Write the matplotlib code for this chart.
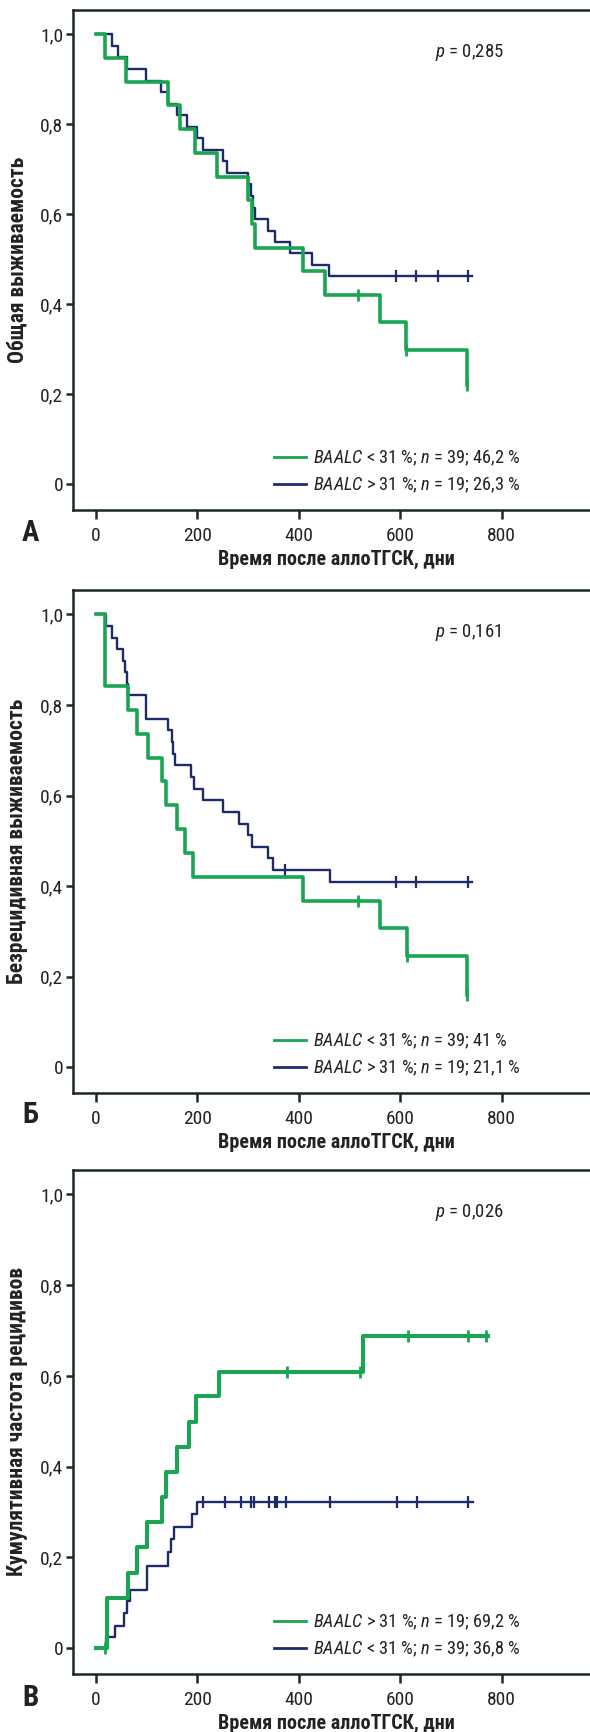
import numpy as np
import matplotlib
matplotlib.use("Agg")
import matplotlib.pyplot as plt
from matplotlib import font_manager

# condensed face if one is installed, otherwise Roboto
names = {f.name for f in font_manager.fontManager.ttflist}
cond = [n for n in ['Roboto Condensed', 'Liberation Sans Narrow', 'Open Sans Condensed'] if n in names]
base = cond[0] if cond else 'Roboto'
plt.rcParams['font.family'] = [base, 'DejaVu Sans']
plt.rcParams['mathtext.fontset'] = 'custom'
plt.rcParams['mathtext.it'] = base + ':italic'
plt.rcParams['mathtext.rm'] = base
shrink = 1.0 if cond else 0.82

GREEN = '#19a552'
NAVY = '#1f2a6b'
SPINE = '#1c2828'
TXT = '#222222'

# --- panel A: overall survival
a_green_t = [0, 18, 60, 142, 166, 196, 238, 301, 307, 314, 409, 452, 560, 611, 731]
a_green_s = [1.0, .947, .894, .842, .789, .737, .684, .632, .579, .526, .474, .421, .361, .298, .221]
a_green_ct = [517, 611, 731]
a_green_cs = [.421, .298, .221]
a_navy_t = [0, 31, 43, 61, 99, 128, 143, 160, 179, 199, 212, 250, 258, 301, 305, 309, 313,
            340, 353, 383, 426, 460, 741]
a_navy_s = [1.0, .974, .949, .923, .897, .872, .846, .821, .795, .769, .744, .718, .692, .667,
            .641, .615, .590, .564, .538, .513, .487, .462, .462]
a_navy_ct = [592, 632, 674, 734]
a_navy_cs = [.462, .462, .462, .462]

# --- panel B: relapse-free survival
b_green_t = [0, 18, 63, 81, 102, 131, 138, 160, 176, 192, 408, 560, 613, 731]
b_green_s = [1.0, .842, .789, .737, .684, .632, .579, .526, .474, .421, .368, .307, .245, .16]
b_green_ct = [517, 613, 731]
b_green_cs = [.368, .245, .16]
b_navy_t = [0, 20, 32, 41, 54, 58, 61, 64, 98, 143, 150, 153, 156, 188, 194, 211, 250, 283,
            301, 307, 340, 350, 462, 741]
b_navy_s = [1.0, .974, .949, .923, .897, .872, .846, .821, .769, .744, .718, .692, .667, .641,
            .615, .590, .564, .538, .513, .487, .462, .436, .410, .410]
b_navy_ct = [373, 592, 632, 734]
b_navy_cs = [.436, .41, .41, .41]

# --- panel C: cumulative relapse incidence
c_green_t = [0, 22, 64, 81, 100, 130, 138, 160, 183, 198, 242, 527, 774]
c_green_s = [0, .110, .166, .222, .277, .334, .389, .444, .499, .556, .609, .688, .688]
c_green_ct = [18, 376, 521, 616, 734, 770]
c_green_cs = [0, .609, .609, .688, .688, .688]
c_navy_t = [0, 20, 38, 56, 61, 68, 100, 143, 148, 155, 189, 199, 744]
c_navy_s = [0, .024, .049, .077, .103, .128, .18, .213, .240, .268, .295, .323, .323]
c_navy_ct = [212, 254, 286, 305, 312, 342, 353, 357, 375, 462, 593, 634, 734]
c_navy_cs = [.323] * 13

ylabels = ['Общая выживаемость', 'Безрецидивная выживаемость', 'Кумулятивная частота рецидивов']
pvals = ['0,285', '0,161', '0,026']
letters = ['А', 'Б', 'В']
leg_green = [r'$\mathit{BAALC}$ < 31 %; $\mathit{n}$ = 39; 46,2 %',
             r'$\mathit{BAALC}$ < 31 %; $\mathit{n}$ = 39; 41 %',
             r'$\mathit{BAALC}$ > 31 %; $\mathit{n}$ = 19; 69,2 %']
leg_navy = [r'$\mathit{BAALC}$ > 31 %; $\mathit{n}$ = 19; 26,3 %',
            r'$\mathit{BAALC}$ > 31 %; $\mathit{n}$ = 19; 21,1 %',
            r'$\mathit{BAALC}$ < 31 %; $\mathit{n}$ = 39; 36,8 %']
xticks = [0, 200, 400, 600, 800]
yticks = [0, 0.2, 0.4, 0.6, 0.8, 1.0]
ytick_labels = ['0', '0,2', '0,4', '0,6', '0,8', '1,0']

panels = [
    (a_green_t, a_green_s, a_green_ct, a_green_cs, a_navy_t, a_navy_s, a_navy_ct, a_navy_cs),
    (b_green_t, b_green_s, b_green_ct, b_green_cs, b_navy_t, b_navy_s, b_navy_ct, b_navy_cs),
    (c_green_t, c_green_s, c_green_ct, c_green_cs, c_navy_t, c_navy_s, c_navy_ct, c_navy_cs),
]

W, H = 590, 1732
fig = plt.figure(figsize=(W / 100, H / 100), dpi=100)
# axes boxes in pixels: (top, bottom)
boxes = [(10, 510), (590, 1093), (1170, 1674)]
letter_y = [533, 1115, 1698]
left_px, right_px = 73, 600

for i, (gt, gs, gct, gcs, nt, ns, nct, ncs) in enumerate(panels):
    top, bot = boxes[i]
    ax = fig.add_axes([left_px / W, 1 - bot / H, (right_px - left_px) / W, (bot - top) / H])
    gw = 2.9 if i == 2 else 2.6
    ax.step(nt, ns, where='post', color=NAVY, lw=1.7, zorder=3)
    ax.step(gt, gs, where='post', color=GREEN, lw=gw, zorder=4)
    ax.plot(nct, ncs, ls='none', marker='|', ms=8, mew=1.6, color=NAVY, zorder=3)
    ax.plot(gct, gcs, ls='none', marker='|', ms=8, mew=2.0, color=GREEN, zorder=4)

    ax.set_xlim(-45, 994)
    ax.set_ylim(-0.057, 1.054)
    ax.set_xticks(xticks)
    ax.set_xticklabels([str(v) for v in xticks])
    ax.set_yticks(yticks)
    ax.set_yticklabels(ytick_labels)
    ax.tick_params(axis='x', length=6.5, width=1.8, color=SPINE, pad=6, labelsize=14, labelcolor=TXT)
    ax.tick_params(axis='y', length=5, width=1.8, color=SPINE, pad=2, labelsize=14, labelcolor=TXT)
    for s in ['top', 'left', 'bottom']:
        ax.spines[s].set_color(SPINE)
        ax.spines[s].set_linewidth(1.8)
    ax.spines['right'].set_visible(False)

    ax.set_xlabel('Время после аллоТГСК, дни', fontsize=14.5, fontweight='bold', color=TXT, labelpad=3.5)
    ax.set_ylabel(ylabels[i], fontsize=15.5, fontweight='bold', color=TXT)
    ax.yaxis.set_label_coords(-0.085, 0.5)

    ax.text(668, 0.96, r'$\mathit{p}$ = ' + pvals[i], fontsize=13.5 * shrink, color=TXT,
            ha='left', va='center')

    hg, = ax.plot([], [], color=GREEN, lw=2.0)
    hn, = ax.plot([], [], color=NAVY, lw=2.0)
    fs = 13.2 * shrink
    ax.legend([hg, hn], [leg_green[i], leg_navy[i]], loc='lower left',
              bbox_to_anchor=((259 - left_px) / (right_px - left_px), 0.0),
              frameon=False, fontsize=fs, handlelength=32 / (fs * 1.389),
              handletextpad=7 / (fs * 1.389), labelspacing=0.42, borderpad=0.3, labelcolor=TXT)

    fig.text(30 / W, 1 - letter_y[i] / H, letters[i], fontsize=21, fontweight='bold',
             color=TXT, ha='center', va='center')

fig.savefig('out.png', dpi=100)
